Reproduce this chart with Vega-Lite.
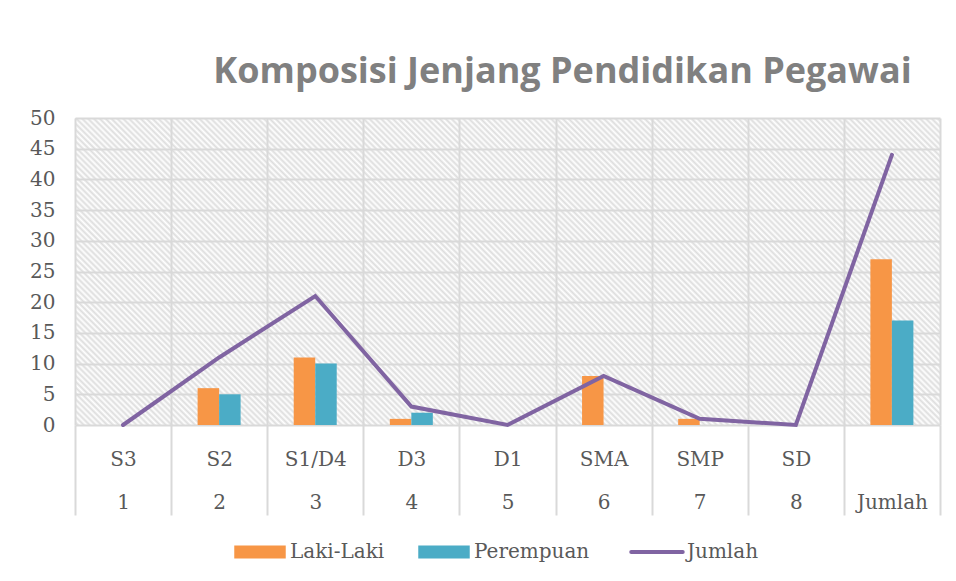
{
  "$schema": "https://vega.github.io/schema/vega-lite/v6.json",
  "width": 865,
  "height": 307,
  "autosize": "none",
  "padding": {"left": 75, "top": 118, "right": 16, "bottom": 156},
  "background": "white",
  "title": {
    "text": "Komposisi Jenjang Pendidikan Pegawai",
    "font": "Open Sans",
    "fontSize": 36,
    "fontWeight": "bold",
    "color": "#808080",
    "anchor": "middle",
    "dx": 55,
    "dy": 44,
    "baseline": "alphabetic",
    "offset": 33
  },
  "data": {
    "values": [
      {"cat": "S3|1", "series": "Laki-Laki", "value": 0},
      {"cat": "S3|1", "series": "Perempuan", "value": 0},
      {"cat": "S3|1", "series": "Jumlah", "value": 0},
      {"cat": "S2|2", "series": "Laki-Laki", "value": 6},
      {"cat": "S2|2", "series": "Perempuan", "value": 5},
      {"cat": "S2|2", "series": "Jumlah", "value": 11},
      {"cat": "S1/D4|3", "series": "Laki-Laki", "value": 11},
      {"cat": "S1/D4|3", "series": "Perempuan", "value": 10},
      {"cat": "S1/D4|3", "series": "Jumlah", "value": 21},
      {"cat": "D3|4", "series": "Laki-Laki", "value": 1},
      {"cat": "D3|4", "series": "Perempuan", "value": 2},
      {"cat": "D3|4", "series": "Jumlah", "value": 3},
      {"cat": "D1|5", "series": "Laki-Laki", "value": 0},
      {"cat": "D1|5", "series": "Perempuan", "value": 0},
      {"cat": "D1|5", "series": "Jumlah", "value": 0},
      {"cat": "SMA|6", "series": "Laki-Laki", "value": 8},
      {"cat": "SMA|6", "series": "Perempuan", "value": 0},
      {"cat": "SMA|6", "series": "Jumlah", "value": 8},
      {"cat": "SMP|7", "series": "Laki-Laki", "value": 1},
      {"cat": "SMP|7", "series": "Perempuan", "value": 0},
      {"cat": "SMP|7", "series": "Jumlah", "value": 1},
      {"cat": "SD|8", "series": "Laki-Laki", "value": 0},
      {"cat": "SD|8", "series": "Perempuan", "value": 0},
      {"cat": "SD|8", "series": "Jumlah", "value": 0},
      {"cat": "|Jumlah", "series": "Laki-Laki", "value": 27},
      {"cat": "|Jumlah", "series": "Perempuan", "value": 17},
      {"cat": "|Jumlah", "series": "Jumlah", "value": 44}
    ]
  },
  "encoding": {
    "x": {
      "field": "cat",
      "type": "nominal",
      "sort": null,
      "scale": {"paddingInner": 0, "paddingOuter": 0},
      "axis": {
        "title": null,
        "labelAngle": 0,
        "labelExpr": "split(datum.label, '|')",
        "labelFont": "DejaVu Serif",
        "labelFontSize": 20,
        "labelColor": "#595959",
        "labelLineHeight": 43,
        "labelBaseline": "top",
        "labelPadding": -66,
        "tickBand": "extent",
        "ticks": true,
        "tickSize": 90,
        "tickColor": "#d9d9d9",
        "tickWidth": 2,
        "grid": true,
        "gridColor": "#d9d9d9",
        "gridWidth": 2,
        "domain": false
      }
    },
    "y": {
      "field": "value",
      "type": "quantitative",
      "scale": {"domain": [0, 50], "nice": false},
      "axis": {
        "title": null,
        "values": [0, 5, 10, 15, 20, 25, 30, 35, 40, 45, 50],
        "labelFont": "DejaVu Serif",
        "labelFontSize": 20,
        "labelColor": "#595959",
        "labelPadding": 20,
        "ticks": false,
        "domain": false,
        "grid": true,
        "gridColor": "#d9d9d9",
        "gridWidth": 2
      }
    },
    "color": {
      "field": "series",
      "type": "nominal",
      "scale": {
        "domain": ["Laki-Laki", "Perempuan", "Jumlah"],
        "range": ["#f79646", "#4bacc6", "#8064a2"]
      },
      "legend": {
        "title": null,
        "orient": "none",
        "direction": "horizontal",
        "legendX": 175,
        "legendY": 424,
        "padding": 0,
        "columnPadding": 33,
        "labelOffset": 20,
        "labelFont": "DejaVu Serif",
        "labelFontSize": 20,
        "labelColor": "#595959",
        "symbolSize": 2650,
        "symbolType": "M-1,-0.25H1V0.25H-1Z",
        "symbolStrokeWidth": 0,
        "encode": {
          "symbols": {
            "update": {
              "shape": {"signal": "datum.label === 'Jumlah' ? 'M-1,0H1' : 'M-1,-0.25H1V0.25H-1Z'"},
              "fill": {"signal": "datum.label === 'Jumlah' ? 'transparent' : (datum.label === 'Laki-Laki' ? '#f79646' : '#4bacc6')"},
              "stroke": {"signal": "datum.label === 'Jumlah' ? '#8064a2' : 'transparent'"},
              "strokeWidth": {"signal": "datum.label === 'Jumlah' ? 4 : 0"},
              "strokeCap": {"value": "round"},
              "opacity": {"value": 1}
            }
          }
        }
      }
    }
  },
  "layer": [
    {
      "transform": [{"filter": "datum.series !== 'Jumlah'"}],
      "mark": {"type": "bar"},
      "encoding": {
        "xOffset": {
          "field": "series",
          "type": "nominal",
          "scale": {"domain": ["Laki-Laki", "Perempuan"], "paddingInner": 0, "paddingOuter": 0, "range": [26.5, 69.5]}
        }
      }
    },
    {
      "transform": [{"filter": "datum.series === 'Jumlah'"}],
      "mark": {"type": "line", "strokeWidth": 4, "strokeCap": "round"},
      "encoding": {}
    }
  ],
  "config": {
    "view": {
      "stroke": null,
      "fill": {
        "gradient": "linear",
        "x1": 0, "y1": 1, "x2": 1.2033, "y2": 0.573,
        "stops": [
{"offset":0,"color":"#fff"},{"offset":0.0025,"color":"#ddd"},{"offset":0.005,"color":"#fff"},{"offset":0.0075,"color":"#ddd"},
{"offset":0.01,"color":"#fff"},{"offset":0.0125,"color":"#ddd"},{"offset":0.015,"color":"#fff"},{"offset":0.0175,"color":"#ddd"},
{"offset":0.02,"color":"#fff"},{"offset":0.0225,"color":"#ddd"},{"offset":0.025,"color":"#fff"},{"offset":0.0275,"color":"#ddd"},
{"offset":0.03,"color":"#fff"},{"offset":0.0325,"color":"#ddd"},{"offset":0.035,"color":"#fff"},{"offset":0.0375,"color":"#ddd"},
{"offset":0.04,"color":"#fff"},{"offset":0.0425,"color":"#ddd"},{"offset":0.045,"color":"#fff"},{"offset":0.0475,"color":"#ddd"},
{"offset":0.05,"color":"#fff"},{"offset":0.0525,"color":"#ddd"},{"offset":0.055,"color":"#fff"},{"offset":0.0575,"color":"#ddd"},
{"offset":0.06,"color":"#fff"},{"offset":0.0625,"color":"#ddd"},{"offset":0.065,"color":"#fff"},{"offset":0.0675,"color":"#ddd"},
{"offset":0.07,"color":"#fff"},{"offset":0.0725,"color":"#ddd"},{"offset":0.075,"color":"#fff"},{"offset":0.0775,"color":"#ddd"},
{"offset":0.08,"color":"#fff"},{"offset":0.0825,"color":"#ddd"},{"offset":0.085,"color":"#fff"},{"offset":0.0875,"color":"#ddd"},
{"offset":0.09,"color":"#fff"},{"offset":0.0925,"color":"#ddd"},{"offset":0.095,"color":"#fff"},{"offset":0.0975,"color":"#ddd"},
{"offset":0.1,"color":"#fff"},{"offset":0.1025,"color":"#ddd"},{"offset":0.105,"color":"#fff"},{"offset":0.1075,"color":"#ddd"},
{"offset":0.11,"color":"#fff"},{"offset":0.1125,"color":"#ddd"},{"offset":0.115,"color":"#fff"},{"offset":0.1175,"color":"#ddd"},
{"offset":0.12,"color":"#fff"},{"offset":0.1225,"color":"#ddd"},{"offset":0.125,"color":"#fff"},{"offset":0.1275,"color":"#ddd"},
{"offset":0.13,"color":"#fff"},{"offset":0.1325,"color":"#ddd"},{"offset":0.135,"color":"#fff"},{"offset":0.1375,"color":"#ddd"},
{"offset":0.14,"color":"#fff"},{"offset":0.1425,"color":"#ddd"},{"offset":0.145,"color":"#fff"},{"offset":0.1475,"color":"#ddd"},
{"offset":0.15,"color":"#fff"},{"offset":0.1525,"color":"#ddd"},{"offset":0.155,"color":"#fff"},{"offset":0.1575,"color":"#ddd"},
{"offset":0.16,"color":"#fff"},{"offset":0.1625,"color":"#ddd"},{"offset":0.165,"color":"#fff"},{"offset":0.1675,"color":"#ddd"},
{"offset":0.17,"color":"#fff"},{"offset":0.1725,"color":"#ddd"},{"offset":0.175,"color":"#fff"},{"offset":0.1775,"color":"#ddd"},
{"offset":0.18,"color":"#fff"},{"offset":0.1825,"color":"#ddd"},{"offset":0.185,"color":"#fff"},{"offset":0.1875,"color":"#ddd"},
{"offset":0.19,"color":"#fff"},{"offset":0.1925,"color":"#ddd"},{"offset":0.195,"color":"#fff"},{"offset":0.1975,"color":"#ddd"},
{"offset":0.2,"color":"#fff"},{"offset":0.2025,"color":"#ddd"},{"offset":0.205,"color":"#fff"},{"offset":0.2075,"color":"#ddd"},
{"offset":0.21,"color":"#fff"},{"offset":0.2125,"color":"#ddd"},{"offset":0.215,"color":"#fff"},{"offset":0.2175,"color":"#ddd"},
{"offset":0.22,"color":"#fff"},{"offset":0.2225,"color":"#ddd"},{"offset":0.225,"color":"#fff"},{"offset":0.2275,"color":"#ddd"},
{"offset":0.23,"color":"#fff"},{"offset":0.2325,"color":"#ddd"},{"offset":0.235,"color":"#fff"},{"offset":0.2375,"color":"#ddd"},
{"offset":0.24,"color":"#fff"},{"offset":0.2425,"color":"#ddd"},{"offset":0.245,"color":"#fff"},{"offset":0.2475,"color":"#ddd"},
{"offset":0.25,"color":"#fff"},{"offset":0.2525,"color":"#ddd"},{"offset":0.255,"color":"#fff"},{"offset":0.2575,"color":"#ddd"},
{"offset":0.26,"color":"#fff"},{"offset":0.2625,"color":"#ddd"},{"offset":0.265,"color":"#fff"},{"offset":0.2675,"color":"#ddd"},
{"offset":0.27,"color":"#fff"},{"offset":0.2725,"color":"#ddd"},{"offset":0.275,"color":"#fff"},{"offset":0.2775,"color":"#ddd"},
{"offset":0.28,"color":"#fff"},{"offset":0.2825,"color":"#ddd"},{"offset":0.285,"color":"#fff"},{"offset":0.2875,"color":"#ddd"},
{"offset":0.29,"color":"#fff"},{"offset":0.2925,"color":"#ddd"},{"offset":0.295,"color":"#fff"},{"offset":0.2975,"color":"#ddd"},
{"offset":0.3,"color":"#fff"},{"offset":0.3025,"color":"#ddd"},{"offset":0.305,"color":"#fff"},{"offset":0.3075,"color":"#ddd"},
{"offset":0.31,"color":"#fff"},{"offset":0.3125,"color":"#ddd"},{"offset":0.315,"color":"#fff"},{"offset":0.3175,"color":"#ddd"},
{"offset":0.32,"color":"#fff"},{"offset":0.3225,"color":"#ddd"},{"offset":0.325,"color":"#fff"},{"offset":0.3275,"color":"#ddd"},
{"offset":0.33,"color":"#fff"},{"offset":0.3325,"color":"#ddd"},{"offset":0.335,"color":"#fff"},{"offset":0.3375,"color":"#ddd"},
{"offset":0.34,"color":"#fff"},{"offset":0.3425,"color":"#ddd"},{"offset":0.345,"color":"#fff"},{"offset":0.3475,"color":"#ddd"},
{"offset":0.35,"color":"#fff"},{"offset":0.3525,"color":"#ddd"},{"offset":0.355,"color":"#fff"},{"offset":0.3575,"color":"#ddd"},
{"offset":0.36,"color":"#fff"},{"offset":0.3625,"color":"#ddd"},{"offset":0.365,"color":"#fff"},{"offset":0.3675,"color":"#ddd"},
{"offset":0.37,"color":"#fff"},{"offset":0.3725,"color":"#ddd"},{"offset":0.375,"color":"#fff"},{"offset":0.3775,"color":"#ddd"},
{"offset":0.38,"color":"#fff"},{"offset":0.3825,"color":"#ddd"},{"offset":0.385,"color":"#fff"},{"offset":0.3875,"color":"#ddd"},
{"offset":0.39,"color":"#fff"},{"offset":0.3925,"color":"#ddd"},{"offset":0.395,"color":"#fff"},{"offset":0.3975,"color":"#ddd"},
{"offset":0.4,"color":"#fff"},{"offset":0.4025,"color":"#ddd"},{"offset":0.405,"color":"#fff"},{"offset":0.4075,"color":"#ddd"},
{"offset":0.41,"color":"#fff"},{"offset":0.4125,"color":"#ddd"},{"offset":0.415,"color":"#fff"},{"offset":0.4175,"color":"#ddd"},
{"offset":0.42,"color":"#fff"},{"offset":0.4225,"color":"#ddd"},{"offset":0.425,"color":"#fff"},{"offset":0.4275,"color":"#ddd"},
{"offset":0.43,"color":"#fff"},{"offset":0.4325,"color":"#ddd"},{"offset":0.435,"color":"#fff"},{"offset":0.4375,"color":"#ddd"},
{"offset":0.44,"color":"#fff"},{"offset":0.4425,"color":"#ddd"},{"offset":0.445,"color":"#fff"},{"offset":0.4475,"color":"#ddd"},
{"offset":0.45,"color":"#fff"},{"offset":0.4525,"color":"#ddd"},{"offset":0.455,"color":"#fff"},{"offset":0.4575,"color":"#ddd"},
{"offset":0.46,"color":"#fff"},{"offset":0.4625,"color":"#ddd"},{"offset":0.465,"color":"#fff"},{"offset":0.4675,"color":"#ddd"},
{"offset":0.47,"color":"#fff"},{"offset":0.4725,"color":"#ddd"},{"offset":0.475,"color":"#fff"},{"offset":0.4775,"color":"#ddd"},
{"offset":0.48,"color":"#fff"},{"offset":0.4825,"color":"#ddd"},{"offset":0.485,"color":"#fff"},{"offset":0.4875,"color":"#ddd"},
{"offset":0.49,"color":"#fff"},{"offset":0.4925,"color":"#ddd"},{"offset":0.495,"color":"#fff"},{"offset":0.4975,"color":"#ddd"},
{"offset":0.5,"color":"#fff"},{"offset":0.5025,"color":"#ddd"},{"offset":0.505,"color":"#fff"},{"offset":0.5075,"color":"#ddd"},
{"offset":0.51,"color":"#fff"},{"offset":0.5125,"color":"#ddd"},{"offset":0.515,"color":"#fff"},{"offset":0.5175,"color":"#ddd"},
{"offset":0.52,"color":"#fff"},{"offset":0.5225,"color":"#ddd"},{"offset":0.525,"color":"#fff"},{"offset":0.5275,"color":"#ddd"},
{"offset":0.53,"color":"#fff"},{"offset":0.5325,"color":"#ddd"},{"offset":0.535,"color":"#fff"},{"offset":0.5375,"color":"#ddd"},
{"offset":0.54,"color":"#fff"},{"offset":0.5425,"color":"#ddd"},{"offset":0.545,"color":"#fff"},{"offset":0.5475,"color":"#ddd"},
{"offset":0.55,"color":"#fff"},{"offset":0.5525,"color":"#ddd"},{"offset":0.555,"color":"#fff"},{"offset":0.5575,"color":"#ddd"},
{"offset":0.56,"color":"#fff"},{"offset":0.5625,"color":"#ddd"},{"offset":0.565,"color":"#fff"},{"offset":0.5675,"color":"#ddd"},
{"offset":0.57,"color":"#fff"},{"offset":0.5725,"color":"#ddd"},{"offset":0.575,"color":"#fff"},{"offset":0.5775,"color":"#ddd"},
{"offset":0.58,"color":"#fff"},{"offset":0.5825,"color":"#ddd"},{"offset":0.585,"color":"#fff"},{"offset":0.5875,"color":"#ddd"},
{"offset":0.59,"color":"#fff"},{"offset":0.5925,"color":"#ddd"},{"offset":0.595,"color":"#fff"},{"offset":0.5975,"color":"#ddd"},
{"offset":0.6,"color":"#fff"},{"offset":0.6025,"color":"#ddd"},{"offset":0.605,"color":"#fff"},{"offset":0.6075,"color":"#ddd"},
{"offset":0.61,"color":"#fff"},{"offset":0.6125,"color":"#ddd"},{"offset":0.615,"color":"#fff"},{"offset":0.6175,"color":"#ddd"},
{"offset":0.62,"color":"#fff"},{"offset":0.6225,"color":"#ddd"},{"offset":0.625,"color":"#fff"},{"offset":0.6275,"color":"#ddd"},
{"offset":0.63,"color":"#fff"},{"offset":0.6325,"color":"#ddd"},{"offset":0.635,"color":"#fff"},{"offset":0.6375,"color":"#ddd"},
{"offset":0.64,"color":"#fff"},{"offset":0.6425,"color":"#ddd"},{"offset":0.645,"color":"#fff"},{"offset":0.6475,"color":"#ddd"},
{"offset":0.65,"color":"#fff"},{"offset":0.6525,"color":"#ddd"},{"offset":0.655,"color":"#fff"},{"offset":0.6575,"color":"#ddd"},
{"offset":0.66,"color":"#fff"},{"offset":0.6625,"color":"#ddd"},{"offset":0.665,"color":"#fff"},{"offset":0.6675,"color":"#ddd"},
{"offset":0.67,"color":"#fff"},{"offset":0.6725,"color":"#ddd"},{"offset":0.675,"color":"#fff"},{"offset":0.6775,"color":"#ddd"},
{"offset":0.68,"color":"#fff"},{"offset":0.6825,"color":"#ddd"},{"offset":0.685,"color":"#fff"},{"offset":0.6875,"color":"#ddd"},
{"offset":0.69,"color":"#fff"},{"offset":0.6925,"color":"#ddd"},{"offset":0.695,"color":"#fff"},{"offset":0.6975,"color":"#ddd"},
{"offset":0.7,"color":"#fff"},{"offset":0.7025,"color":"#ddd"},{"offset":0.705,"color":"#fff"},{"offset":0.7075,"color":"#ddd"},
{"offset":0.71,"color":"#fff"},{"offset":0.7125,"color":"#ddd"},{"offset":0.715,"color":"#fff"},{"offset":0.7175,"color":"#ddd"},
{"offset":0.72,"color":"#fff"},{"offset":0.7225,"color":"#ddd"},{"offset":0.725,"color":"#fff"},{"offset":0.7275,"color":"#ddd"},
{"offset":0.73,"color":"#fff"},{"offset":0.7325,"color":"#ddd"},{"offset":0.735,"color":"#fff"},{"offset":0.7375,"color":"#ddd"},
{"offset":0.74,"color":"#fff"},{"offset":0.7425,"color":"#ddd"},{"offset":0.745,"color":"#fff"},{"offset":0.7475,"color":"#ddd"},
{"offset":0.75,"color":"#fff"},{"offset":0.7525,"color":"#ddd"},{"offset":0.755,"color":"#fff"},{"offset":0.7575,"color":"#ddd"},
{"offset":0.76,"color":"#fff"},{"offset":0.7625,"color":"#ddd"},{"offset":0.765,"color":"#fff"},{"offset":0.7675,"color":"#ddd"},
{"offset":0.77,"color":"#fff"},{"offset":0.7725,"color":"#ddd"},{"offset":0.775,"color":"#fff"},{"offset":0.7775,"color":"#ddd"},
{"offset":0.78,"color":"#fff"},{"offset":0.7825,"color":"#ddd"},{"offset":0.785,"color":"#fff"},{"offset":0.7875,"color":"#ddd"},
{"offset":0.79,"color":"#fff"},{"offset":0.7925,"color":"#ddd"},{"offset":0.795,"color":"#fff"},{"offset":0.7975,"color":"#ddd"},
{"offset":0.8,"color":"#fff"},{"offset":0.8025,"color":"#ddd"},{"offset":0.805,"color":"#fff"},{"offset":0.8075,"color":"#ddd"},
{"offset":0.81,"color":"#fff"},{"offset":0.8125,"color":"#ddd"},{"offset":0.815,"color":"#fff"},{"offset":0.8175,"color":"#ddd"},
{"offset":0.82,"color":"#fff"},{"offset":0.8225,"color":"#ddd"},{"offset":0.825,"color":"#fff"},{"offset":0.8275,"color":"#ddd"},
{"offset":0.83,"color":"#fff"},{"offset":0.8325,"color":"#ddd"},{"offset":0.835,"color":"#fff"},{"offset":0.8375,"color":"#ddd"},
{"offset":0.84,"color":"#fff"},{"offset":0.8425,"color":"#ddd"},{"offset":0.845,"color":"#fff"},{"offset":0.8475,"color":"#ddd"},
{"offset":0.85,"color":"#fff"},{"offset":0.8525,"color":"#ddd"},{"offset":0.855,"color":"#fff"},{"offset":0.8575,"color":"#ddd"},
{"offset":0.86,"color":"#fff"},{"offset":0.8625,"color":"#ddd"},{"offset":0.865,"color":"#fff"},{"offset":0.8675,"color":"#ddd"},
{"offset":0.87,"color":"#fff"},{"offset":0.8725,"color":"#ddd"},{"offset":0.875,"color":"#fff"},{"offset":0.8775,"color":"#ddd"},
{"offset":0.88,"color":"#fff"},{"offset":0.8825,"color":"#ddd"},{"offset":0.885,"color":"#fff"},{"offset":0.8875,"color":"#ddd"},
{"offset":0.89,"color":"#fff"},{"offset":0.8925,"color":"#ddd"},{"offset":0.895,"color":"#fff"},{"offset":0.8975,"color":"#ddd"},
{"offset":0.9,"color":"#fff"},{"offset":0.9025,"color":"#ddd"},{"offset":0.905,"color":"#fff"},{"offset":0.9075,"color":"#ddd"},
{"offset":0.91,"color":"#fff"},{"offset":0.9125,"color":"#ddd"},{"offset":0.915,"color":"#fff"},{"offset":0.9175,"color":"#ddd"},
{"offset":0.92,"color":"#fff"},{"offset":0.9225,"color":"#ddd"},{"offset":0.925,"color":"#fff"},{"offset":0.9275,"color":"#ddd"},
{"offset":0.93,"color":"#fff"},{"offset":0.9325,"color":"#ddd"},{"offset":0.935,"color":"#fff"},{"offset":0.9375,"color":"#ddd"},
{"offset":0.94,"color":"#fff"},{"offset":0.9425,"color":"#ddd"},{"offset":0.945,"color":"#fff"},{"offset":0.9475,"color":"#ddd"},
{"offset":0.95,"color":"#fff"},{"offset":0.9525,"color":"#ddd"},{"offset":0.955,"color":"#fff"},{"offset":0.9575,"color":"#ddd"},
{"offset":0.96,"color":"#fff"},{"offset":0.9625,"color":"#ddd"},{"offset":0.965,"color":"#fff"},{"offset":0.9675,"color":"#ddd"},
{"offset":0.97,"color":"#fff"},{"offset":0.9725,"color":"#ddd"},{"offset":0.975,"color":"#fff"},{"offset":0.9775,"color":"#ddd"},
{"offset":0.98,"color":"#fff"},{"offset":0.9825,"color":"#ddd"},{"offset":0.985,"color":"#fff"},{"offset":0.9875,"color":"#ddd"},
{"offset":0.99,"color":"#fff"},{"offset":0.9925,"color":"#ddd"},{"offset":0.995,"color":"#fff"},{"offset":0.9975,"color":"#ddd"},
{"offset":1,"color":"#fff"}
        ]
      }
    }
  }
}
